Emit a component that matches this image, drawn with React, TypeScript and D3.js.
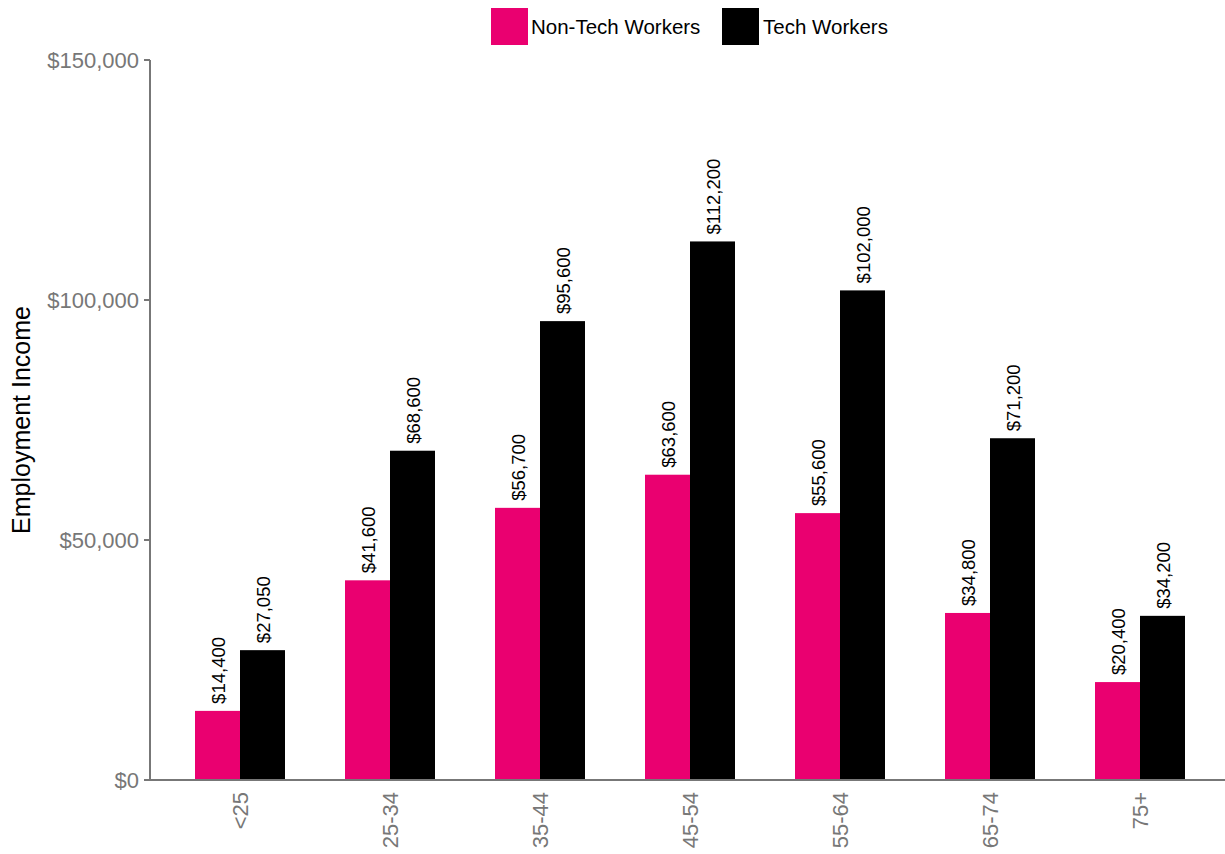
import React from "react";
import * as d3 from "d3";

const categories = ["<25", "25-34", "35-44", "45-54", "55-64", "65-74", "75+"];
const nonTech = [14400, 41600, 56700, 63600, 55600, 34800, 20400];
const tech = [27050, 68600, 95600, 112200, 102000, 71200, 34200];
const seriesNames = ["Non-Tech Workers", "Tech Workers"];
const seriesColors = ["#EA0070", "#000000"];
const yTicks = [0, 50000, 100000, 150000];

const W = 1225;
const H = 854;
const FONT = "'Liberation Sans', Arial, sans-serif";

export default function App() {
  const x = d3.scaleBand<string>().domain(categories).range([165, 1215]).paddingInner(0.4).paddingOuter(0.2);
  const xs = d3.scaleBand<string>().domain(seriesNames).range([0, x.bandwidth()]);
  const y = d3.scaleLinear().domain([0, 150000]).range([780, 60]);
  const fmt = (v: number) => "$" + d3.format(",")(v);
  const data = [nonTech, tech];
  const axisColor = "#777";

  return (
    <svg width={W} height={H} style={{ position: "absolute", left: 0, top: 0, fontFamily: FONT }}>
      {/* legend */}
      <g>
        <rect x={491} y={8} width={37} height={37} fill={seriesColors[0]} />
        <text x={531} y={34} fontSize={20.5} fill="#000">{seriesNames[0]}</text>
        <rect x={722} y={8} width={37} height={37} fill={seriesColors[1]} />
        <text x={763} y={34} fontSize={20.5} fill="#000">{seriesNames[1]}</text>
      </g>
      {/* bars */}
      {categories.map((c, i) => (
        <g key={c}>
          {data.map((s, j) => {
            const bx = (x(c) as number) + (xs(seriesNames[j]) as number);
            const v = s[i];
            return (
              <g key={j}>
                <rect x={bx} y={y(v)} width={xs.bandwidth()} height={780 - y(v)} fill={seriesColors[j]} />
                <text
                  transform={`translate(${bx + xs.bandwidth() / 2 + 7},${y(v) - 7}) rotate(-90)`}
                  fontSize={18.5}
                  fill="#000"
                >
                  {fmt(v)}
                </text>
              </g>
            );
          })}
        </g>
      ))}
      {/* y axis */}
      <line x1={150} x2={150} y1={y(150000)} y2={780} stroke={axisColor} strokeWidth={2} />
      {yTicks.map((t) => (
        <g key={t}>
          <line x1={144} x2={150} y1={y(t)} y2={y(t)} stroke={axisColor} strokeWidth={2} />
          <text x={139} y={y(t)} dy="0.35em" textAnchor="end" fontSize={22} fill="#777">
            {fmt(t)}
          </text>
        </g>
      ))}
      {/* x axis */}
      <line x1={150} x2={1225} y1={780} y2={780} stroke={axisColor} strokeWidth={2} />
      {categories.map((c) => (
        <text
          key={c}
          transform={`translate(${(x(c) as number) + x.bandwidth() / 2 + 8},${792}) rotate(-90)`}
          textAnchor="end"
          fontSize={22}
          fill="#777"
        >
          {c}
        </text>
      ))}
      {/* y title */}
      <text transform={`translate(30,420) rotate(-90)`} textAnchor="middle" fontSize={25} fill="#000">
        Employment Income
      </text>
    </svg>
  );
}
